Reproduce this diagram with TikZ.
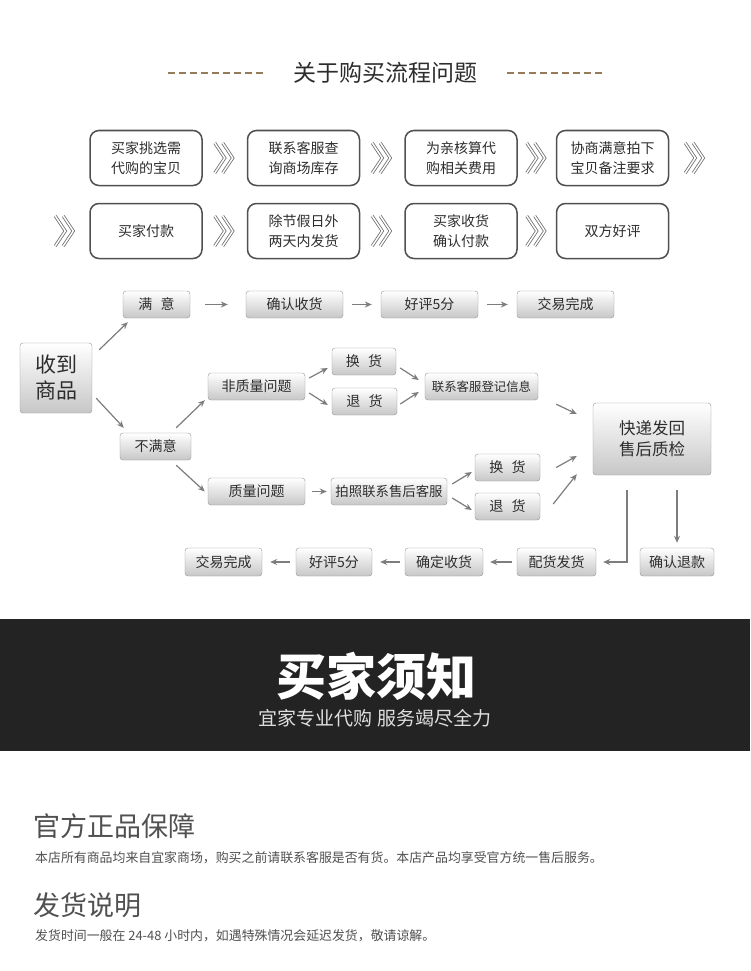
\documentclass[tikz,border=0pt]{standalone}
\usepackage{fontspec}
\setmainfont{Noto Sans CJK SC}
\usetikzlibrary{arrows.meta,positioning,calc}
\definecolor{inkgray}{RGB}{45,45,45}
\definecolor{framegray}{RGB}{80,80,80}
\definecolor{arrowgray}{RGB}{125,125,125}
\definecolor{dashbrown}{RGB}{150,122,92}
\definecolor{bandblack}{RGB}{35,35,35}
\definecolor{notegray}{RGB}{80,80,80}

% double chevron between the step boxes
\newcommand{\dblchev}[1]{%
  \draw[chev] ($(#1)+(-10,-15)$) -- ++(10,15) -- ++(-10,15)
              ($(#1)+(-2,-15)$) -- ++(10,15) -- ++(-10,15);}

\begin{document}
\begin{tikzpicture}[
  x=1pt, y=-1pt,
  stepbox/.style={draw=framegray, line width=1.5pt, rounded corners=9pt, fill=white, align=center, minimum width=112pt, minimum height=55pt, inner sep=0pt, text=inkgray, font=\fontsize{14}{20}\selectfont},
  flow/.style={draw=black!42, rounded corners=3pt, top color=white, bottom color=black!22, minimum height=27pt, inner sep=0pt, align=center, text=inkgray, font=\fontsize{14}{17}\selectfont},
  arr/.style={-{Stealth[length=7pt,width=6pt]}, line width=1.2pt, arrowgray},
  chev/.style={draw=black!55, double=white, double distance=1.5pt, line width=0.8pt},
  note/.style={anchor=west, inner sep=0pt, text=notegray}
]
\useasboundingbox (0,0) rectangle (750,971);
\fill[white] (0,0) rectangle (750,971);

% heading
\node[inner sep=0pt, text=inkgray, font=\fontsize{23}{26}\selectfont] (ttl) at (385,73) {关于购买流程问题};
\draw[dashbrown, line width=1.3pt, dash pattern=on 7pt off 4pt] ($(ttl.west)+(-30,0)$) -- ++(-96,0);
\draw[dashbrown, line width=1.3pt, dash pattern=on 7pt off 4pt] ($(ttl.east)+(30,0)$) -- ++(96,0);

% purchase steps
\node[stepbox] (b1) at (146,158) {买家挑选需\\代购的宝贝};
\node[stepbox, right=44pt of b1] (b2) {联系客服查\\询商场库存};
\node[stepbox, right=44pt of b2] (b3) {为亲核算代\\购相关费用};
\node[stepbox, right=38pt of b3] (b4) {协商满意拍下\\宝贝备注要求};
\node[stepbox] (b5) at (146,231) {买家付款};
\node[stepbox, right=44pt of b5] (b6) {除节假日外\\两天内发货};
\node[stepbox, right=44pt of b6] (b7) {买家收货\\确认付款};
\node[stepbox, right=38pt of b7] (b8) {双方好评};
\foreach \l/\r [count=\i] in {b1/b2,b2/b3,b3/b4,b5/b6,b6/b7,b7/b8} {
  \coordinate (m\i) at ($(\l.east)!0.5!(\r.west)$);
  \dblchev{m\i}
}
\coordinate (mend) at ($(b4.east)+(26,0)$);
\coordinate (mstart) at ($(b5.west)+(-24,0)$);
\dblchev{mend}
\dblchev{mstart}

% after-sale flow
\node[flow, minimum width=72pt, minimum height=70pt, font=\fontsize{21}{26}\selectfont] (rcv) at (56,378) {收到\\商品};
\node[flow, minimum width=67pt] (sat) at (156.5,304.5) {满\hspace{0.6em}意};
\node[flow, minimum width=97pt] (cfm) at (294.5,304.5) {确认收货};
\node[flow, minimum width=97pt] (good1) at (429.5,304.5) {好评5分};
\node[flow, minimum width=97pt] (done1) at (565.5,304.5) {交易完成};
\node[flow, minimum width=71pt] (unsat) at (155.5,446.5) {不满意};
\node[flow, minimum width=97pt] (nonq) at (256.5,386.5) {非质量问题};
\node[flow, minimum width=97pt] (qual) at (256.5,491.5) {质量问题};
\node[flow, minimum width=64pt] (ex1) at (364,361.5) {换\hspace{0.6em}货};
\node[flow, minimum width=65pt] (rt1) at (364.5,401.5) {退\hspace{0.6em}货};
\node[flow, minimum width=113pt, font=\fontsize{12.4}{15}\selectfont] (reg) at (481.5,386.5) {联系客服登记信息};
\node[flow, minimum width=116pt, font=\fontsize{13.4}{16}\selectfont] (photo) at (389,491.5) {拍照联系售后客服};
\node[flow, minimum width=65pt] (ex2) at (507.5,467.5) {换\hspace{0.6em}货};
\node[flow, minimum width=65pt] (rt2) at (507.5,506.5) {退\hspace{0.6em}货};
\node[flow, minimum width=118pt, minimum height=72pt, font=\fontsize{16.5}{21}\selectfont] (qc) at (652,439) {快递发回\\售后质检};
\node[flow, minimum width=79pt, minimum height=28pt] (ship) at (556.5,562) {配货发货};
\node[flow, minimum width=78pt, minimum height=28pt] (cfm2) at (444,562) {确定收货};
\node[flow, minimum width=76pt, minimum height=28pt] (good2) at (334,562) {好评5分};
\node[flow, minimum width=77pt, minimum height=28pt] (done2) at (223.5,562) {交易完成};
\node[flow, minimum width=74pt, minimum height=28pt] (refund) at (677,562) {确认退款};

\draw[arr, shorten <=15pt, shorten >=18pt] (sat) -- (cfm);
\draw[arr, shorten <=9pt, shorten >=9pt] (cfm) -- (good1);
\draw[arr, shorten <=9pt, shorten >=9pt] (good1) -- (done1);
\draw[arr] ($(rcv.north east)+(7,7)$) -- ($(sat.south west)+(5,4)$);
\draw[arr] ($(rcv.south east)+(4,-15)$) -- ($(unsat.north west)+(4,-5)$);
\draw[arr] ($(unsat.north east)+(-15,-5)$) -- ($(nonq.south west)+(-3,0)$);
\draw[arr] ($(unsat.south east)+(-15,5)$) -- ($(qual.west)+(-3,0)$);
\draw[arr] ($(nonq.east)+(4,-8.5)$) -- ($(ex1.west)+(-4,6.5)$);
\draw[arr] ($(nonq.east)+(4,6.5)$) -- ($(rt1.west)+(-4,3.5)$);
\draw[arr] ($(ex1.east)+(4,6.5)$) -- ($(reg.west)+(-6,-6.5)$);
\draw[arr] ($(rt1.east)+(3,2.5)$) -- ($(reg.west)+(-6,5.5)$);
\draw[arr] ($(reg.south east)+(18,4)$) -- ($(qc.west)+(-16,-25)$);
\draw[arr, shorten <=7pt, shorten >=4pt] (qual) -- (photo);
\draw[arr] ($(photo.east)+(5,-7.5)$) -- ($(ex2.west)+(-3,4.5)$);
\draw[arr] ($(photo.east)+(5,6.5)$) -- ($(rt2.west)+(-3,3.5)$);
\draw[arr] ($(ex2.east)+(16,0)$) -- ($(qc.west)+(-16,17)$);
\draw[arr] ($(rt2.east)+(13,-2.5)$) -- ($(qc.south west)+(-16,-1)$);
\draw[arr] ($(qc.south)+(-25,15)$) |- ($(ship.east)+(7,0)$);
\draw[arr] ($(qc.south)+(25,15)$) -- ($(refund.north)+(0,-5)$);
\draw[arr, shorten <=5pt, shorten >=7pt] (ship) -- (cfm2);
\draw[arr, shorten <=5pt, shorten >=8pt] (cfm2) -- (good2);
\draw[arr, shorten <=6pt, shorten >=8pt] (good2) -- (done2);

% buyer notice band
\fill[bandblack] (0,619) rectangle (750,751);
\node[inner sep=0pt, text=white, font=\fontsize{50}{56}\bfseries] (bnote) at (376,676) {买家须知};
\node[inner sep=0pt, text=white!88!black, font=\fontsize{19}{22}\selectfont] (slogan) at (375,718) {宜家专业代购 服务竭尽全力};

% notes
\node[note, font=\fontsize{27}{30}\selectfont] (h1) at (33,826) {官方正品保障};
\node[note, font=\fontsize{12.9}{15}\selectfont] (t1) at (35,858) {本店所有商品均来自宜家商场，购买之前请联系客服是否有货。本店产品均享受官方统一售后服务。};
\node[note, font=\fontsize{27}{30}\selectfont] (h2) at (33,905) {发货说明};
\node[note, font=\fontsize{12.9}{15}\selectfont] (t2) at (35,936) {发货时间一般在 24-48 小时内，如遇特殊情况会延迟发货，敬请谅解。};
\end{tikzpicture}
\end{document}
